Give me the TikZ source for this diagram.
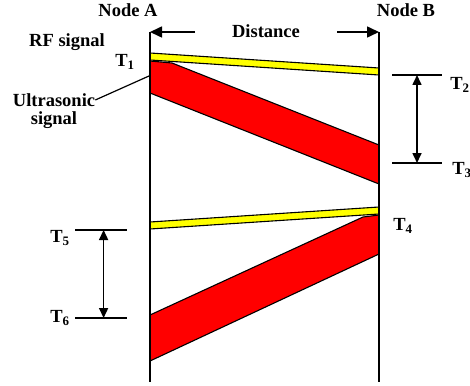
\documentclass[tikz,border=0pt]{standalone}
\usepackage{fontspec}
\setmainfont{Liberation Serif}
\usetikzlibrary{positioning,arrows.meta,calc}
\definecolor{rfyellow}{HTML}{FFFF00}
\definecolor{usred}{HTML}{FF0000}
\tikzset{
  lbl/.style={font=\bfseries\fontsize{18.5}{21}\selectfont, inner sep=0pt},
  band/.style={draw=black, line width=1.1pt, line join=miter},
  axisline/.style={line width=1.8pt},
  tick/.style={line width=1.6pt},
  span/.style={line width=1.6pt, {Triangle[length=10pt,width=9pt]}-{Triangle[length=10pt,width=9pt]}},
  distarrow/.style={line width=1.6pt, -{Triangle[length=12pt,width=11pt]}}
}
\begin{document}
\begin{tikzpicture}[x=1pt,y=-1pt]
  \useasboundingbox (0,0) rectangle (470,385);
  % time axes of the two nodes
  \coordinate (Atop) at (150,32); \coordinate (Abot) at (150,382);
  \coordinate (Btop) at (379,32); \coordinate (Bbot) at (379,382);

  % RF pulse A -> B and ultrasonic pulse A -> B
  \filldraw[band, fill=usred] (150,61) -- (172,63) -- (379,145) -- (379,184) -- (150,93) -- cycle;
  \filldraw[band, fill=rfyellow] (150,53) -- (379,68) -- (379,75) -- (150,60) -- cycle;
  % reply B -> A
  \filldraw[band, fill=usred] (150,315) -- (363,217) -- (379,215) -- (379,254) -- (150,361) -- cycle;
  \filldraw[band, fill=rfyellow] (150,222) -- (379,207) -- (379,214) -- (150,229) -- cycle;

  \draw[axisline] (Atop) -- (Abot);
  \draw[axisline] (Btop) -- (Bbot);

  \node[lbl] (nodeA) at (128,10) {Node A};
  \node[lbl] (nodeB) at (406,10) {Node B};
  \node[lbl] (dist) at (266,31) {Distance};
  \coordinate (dl) at (195,32); \coordinate (dr) at (337,32);
  \draw[distarrow] (dl) -- (Atop);
  \draw[distarrow] (dr) -- (Btop);

  \node[lbl] (rf) at (67,42) {RF signal};
  \node[lbl] (us1) at (54,100) {Ultrasonic};
  \node[lbl, below=5pt of us1] (us2) {signal};
  \coordinate (usend) at (149,76);
  \draw[line width=1.2pt] (us1.east) -- (usend);

  % time marks
  \node[lbl] (t1) at (125,62) {T\textsubscript{1}};
  \node[lbl] (t4) at (403,226) {T\textsubscript{4}};
  \coordinate (t2a) at (392,75);  \coordinate (t2b) at (442,75);
  \coordinate (t3a) at (392,163); \coordinate (t3b) at (442,163);
  \coordinate (t5a) at (75,230);  \coordinate (t5b) at (127,230);
  \coordinate (t6a) at (75,318);  \coordinate (t6b) at (127,318);
  \draw[tick] (t2a) -- (t2b);
  \draw[tick] (t3a) -- (t3b);
  \draw[tick] (t5a) -- (t5b);
  \draw[tick] (t6a) -- (t6b);
  \node[lbl] (t2) at (460,85) {T\textsubscript{2}};
  \node[lbl] (t3) at (462,170) {T\textsubscript{3}};
  \node[lbl] (t5) at (60,238) {T\textsubscript{5}};
  \node[lbl] (t6) at (60,318) {T\textsubscript{6}};
  \draw[span] ($(t2a)!0.5!(t2b)$) -- ($(t3a)!0.5!(t3b)$);
  \draw[span] ($(t5a)!0.55!(t5b)$) -- ($(t6a)!0.55!(t6b)$);
\end{tikzpicture}
\end{document}
